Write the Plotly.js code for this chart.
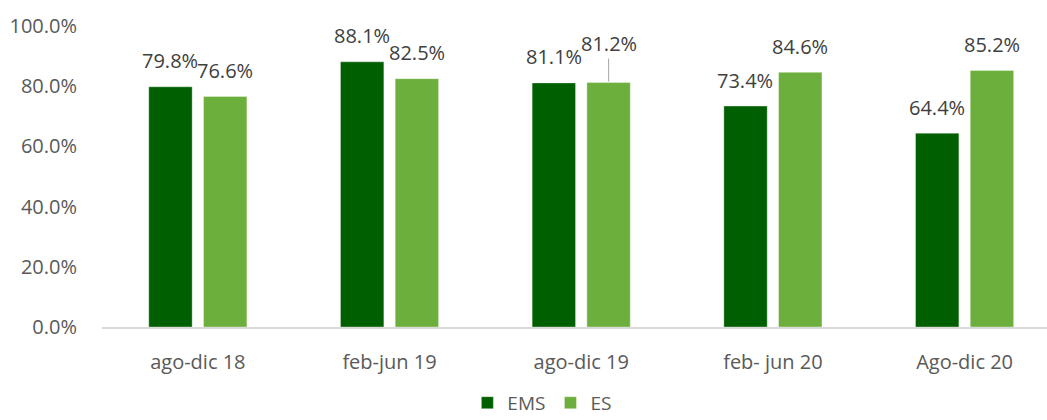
<!DOCTYPE html>
<html>
<head>
<meta charset="utf-8">
<script src="https://cdn.plot.ly/plotly-3.0.1.min.js"></script>
<style>html,body{margin:0;padding:0;background:#fff;}#chart{width:1047px;height:420px;}</style>
</head>
<body>
<div id="chart"></div>
<script>
const categories = ["ago-dic 18", "feb-jun 19", "ago-dic 19", "feb- jun 20", "Ago-dic 20"];
const emsValues = [0.798, 0.881, 0.811, 0.734, 0.644];
const esValues = [0.766, 0.825, 0.812, 0.846, 0.852];
const seriesNames = ["EMS", "ES"];
const yTicks = [0, 0.2, 0.4, 0.6, 0.8, 1.0];

const FONT = "Open Sans, Noto Sans, sans-serif";
const colors = ["#005F00", "#6CAF3C"];

const traces = [
  {type: "bar", name: seriesNames[0], x: categories, y: emsValues,
   marker: {color: colors[0], line: {color: "rgba(255,255,255,0.35)", width: 1}}},
  {type: "bar", name: seriesNames[1], x: categories, y: esValues,
   marker: {color: colors[1], line: {color: "rgba(255,255,255,0.35)", width: 1}}}
];

const annotations = [];
const slotShift = 27.4;
[emsValues, esValues].forEach((vals, s) => {
  vals.forEach((v, i) => {
    const a = {
      x: categories[i], y: v, xref: "x", yref: "y",
      text: (v * 100).toFixed(1) + "%",
      xshift: s === 0 ? -slotShift : slotShift,
      font: {family: FONT, size: 20, color: "#404040"},
      showarrow: false, yshift: 26, yanchor: "middle"
    };
    if (s === 1 && i === 2) {
      a.showarrow = true; a.ax = 0; a.ay = -39; a.yshift = 0;
      a.arrowhead = 0; a.arrowwidth = 1; a.arrowcolor = "#A6A6A6"; a.standoff = 1;
      a.yanchor = "auto";
    }
    annotations.push(a);
  });
});

const layout = {
  width: 1047, height: 420,
  margin: {l: 102, r: 0, t: 26, b: 93, autoexpand: false},
  paper_bgcolor: "#fff", plot_bgcolor: "#fff",
  barmode: "group", bargap: 0.429, bargroupgap: 0.207,
  font: {family: FONT, color: "#595959", size: 20},
  xaxis: {
    range: [-0.5, 4.43], showgrid: false, showline: true, linecolor: "#D9D9D9", linewidth: 1.5,
    ticks: "outside", ticklen: 16, tickcolor: "rgba(0,0,0,0)",
    tickfont: {family: FONT, size: 20, color: "#595959"}, fixedrange: true, automargin: false
  },
  yaxis: {
    range: [0, 1], tickvals: yTicks, tickformat: ".1%", showgrid: false, zeroline: false, showline: false,
    ticks: "outside", ticklen: 20, tickcolor: "rgba(0,0,0,0)", automargin: false,
    tickfont: {family: FONT, size: 20, color: "#595959"}
  },
  legend: {orientation: "h", x: 0.466, xanchor: "center", y: -0.252, yanchor: "middle",
    font: {family: FONT, size: 19, color: "#595959"}, itemwidth: 30},
  annotations: annotations,
  showlegend: true
};

Plotly.newPlot("chart", traces, layout, {displayModeBar: false, staticPlot: true});
</script>
</body>
</html>
